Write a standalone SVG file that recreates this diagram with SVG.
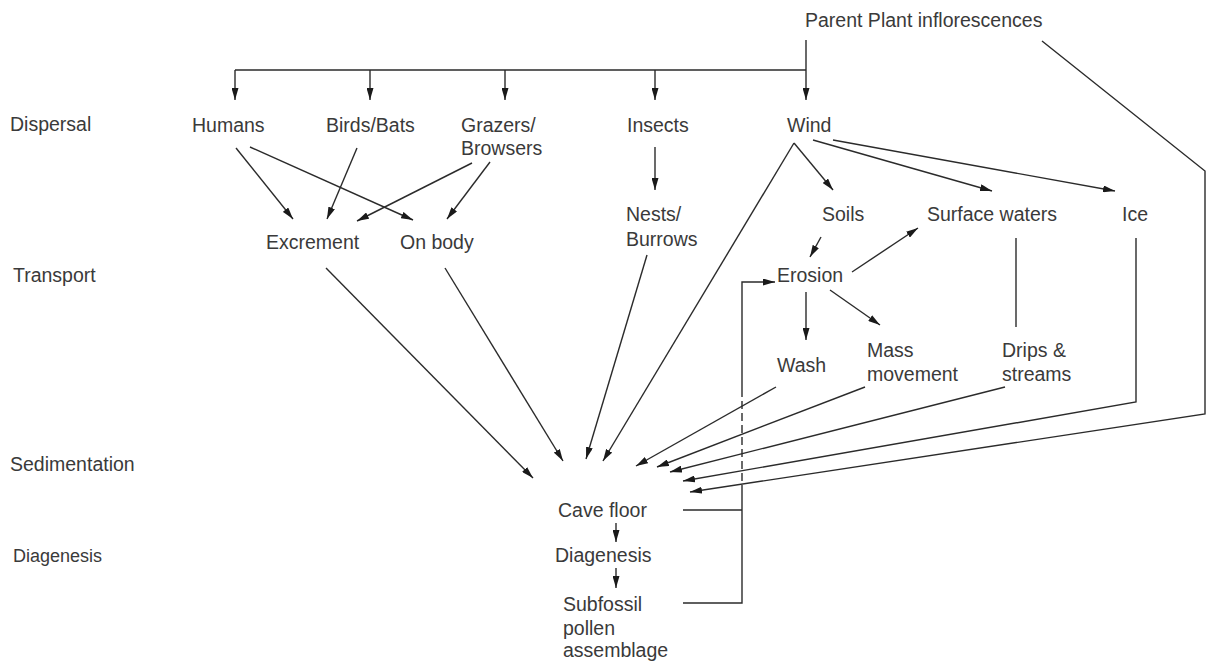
<svg xmlns="http://www.w3.org/2000/svg" width="1208" height="665" viewBox="0 0 1208 665">
<style>
text{font-family:"Liberation Sans",Arial,sans-serif;font-size:19.5px;fill:#3a3a3a}
.l{fill:none;stroke:#2b2b2b;stroke-width:1.4}
.a{marker-end:url(#ah)}
</style>
<defs>
<marker id="ah" viewBox="0 0 12 7" refX="12" refY="3.5" markerWidth="12" markerHeight="7" markerUnits="userSpaceOnUse" orient="auto">
<path d="M0,0 L12,3.5 L0,7 z" fill="#1a1a1a"/>
</marker>
</defs>
<rect width="1208" height="665" fill="#fff"/>
<g id="stages">
<text x="10" y="131">Dispersal</text>
<text x="13" y="282">Transport</text>
<text x="10" y="471">Sedimentation</text>
<text x="13" y="562" style="font-size:18px">Diagenesis</text>
</g>
<g id="parent"><text x="805" y="27">Parent Plant inflorescences</text></g>
<g id="humans"><text x="192" y="132">Humans</text></g>
<g id="birds"><text x="326" y="132">Birds/Bats</text></g>
<g id="grazers"><text x="461" y="132">Grazers/</text><text x="461" y="155">Browsers</text></g>
<g id="insects"><text x="627" y="132">Insects</text></g>
<g id="wind"><text x="787" y="132">Wind</text></g>
<g id="excrement"><text x="266" y="249">Excrement</text></g>
<g id="onbody"><text x="400" y="249">On body</text></g>
<g id="nests"><text x="626" y="221">Nests/</text><text x="626" y="246">Burrows</text></g>
<g id="soils"><text x="822" y="221">Soils</text></g>
<g id="surface"><text x="927" y="221">Surface waters</text></g>
<g id="ice"><text x="1122" y="221">Ice</text></g>
<g id="erosion"><text x="777" y="282">Erosion</text></g>
<g id="wash"><text x="777" y="372">Wash</text></g>
<g id="mass"><text x="867" y="357">Mass</text><text x="867" y="381">movement</text></g>
<g id="drips"><text x="1002" y="357">Drips &amp;</text><text x="1002" y="381">streams</text></g>
<g id="cavefloor"><text x="558" y="517">Cave floor</text></g>
<g id="diagenesis"><text x="555" y="562">Diagenesis</text></g>
<g id="subfossil"><text x="563" y="611">Subfossil</text><text x="563" y="635">pollen</text><text x="563" y="657">assemblage</text></g>
<g id="connectors">
<path class="l" d="M235,70 H806 M806,40 V70"/>
<path class="l a" d="M806,70 V100"/>
<path class="l a" d="M235,70 V100"/>
<path class="l a" d="M370,70 V100"/>
<path class="l a" d="M505,70 V100"/>
<path class="l a" d="M655,70 V100"/>
<path class="l a" d="M236,148 L293,219"/>
<path class="l a" d="M250,147 L413,220"/>
<path class="l a" d="M357,148 L327,219"/>
<path class="l a" d="M472,163 L357,221"/>
<path class="l a" d="M490,162 L447,219"/>
<path class="l a" d="M655,147 V190"/>
<path class="l a" d="M326,268 L533,478"/>
<path class="l a" d="M445,268 L563,461"/>
<path class="l a" d="M647,255 L586,459"/>
<path class="l a" d="M794,143 L603,461"/>
<path class="l a" d="M794,143 L833,190"/>
<path class="l a" d="M813,140 L992,191"/>
<path class="l a" d="M833,140 L1115,191"/>
<path class="l a" d="M1042,41 L1205,171 V414 L690,492"/>
<path class="l a" d="M821,237 L810,257"/>
<path class="l a" d="M852,272 L918,228"/>
<path class="l a" d="M806,292 V340"/>
<path class="l a" d="M830,290 L880,325"/>
<path class="l" d="M1016,238 V327"/>
<path class="l a" d="M1136,238 V402 L683,481"/>
<path class="l a" d="M776,387 L636,466"/>
<path class="l a" d="M865,387 L657,467"/>
<path class="l a" d="M1005,387 L670,472"/>
<path class="l a" d="M616,523 V542"/>
<path class="l a" d="M616,568 V588"/>
<path class="l" d="M683,510 H742 M683,603 H742 V493"/>
<path class="l" d="M742,493 V390" stroke-dasharray="8,4"/>
<path class="l a" d="M742,390 V282 H775"/>
</g>
</svg>
